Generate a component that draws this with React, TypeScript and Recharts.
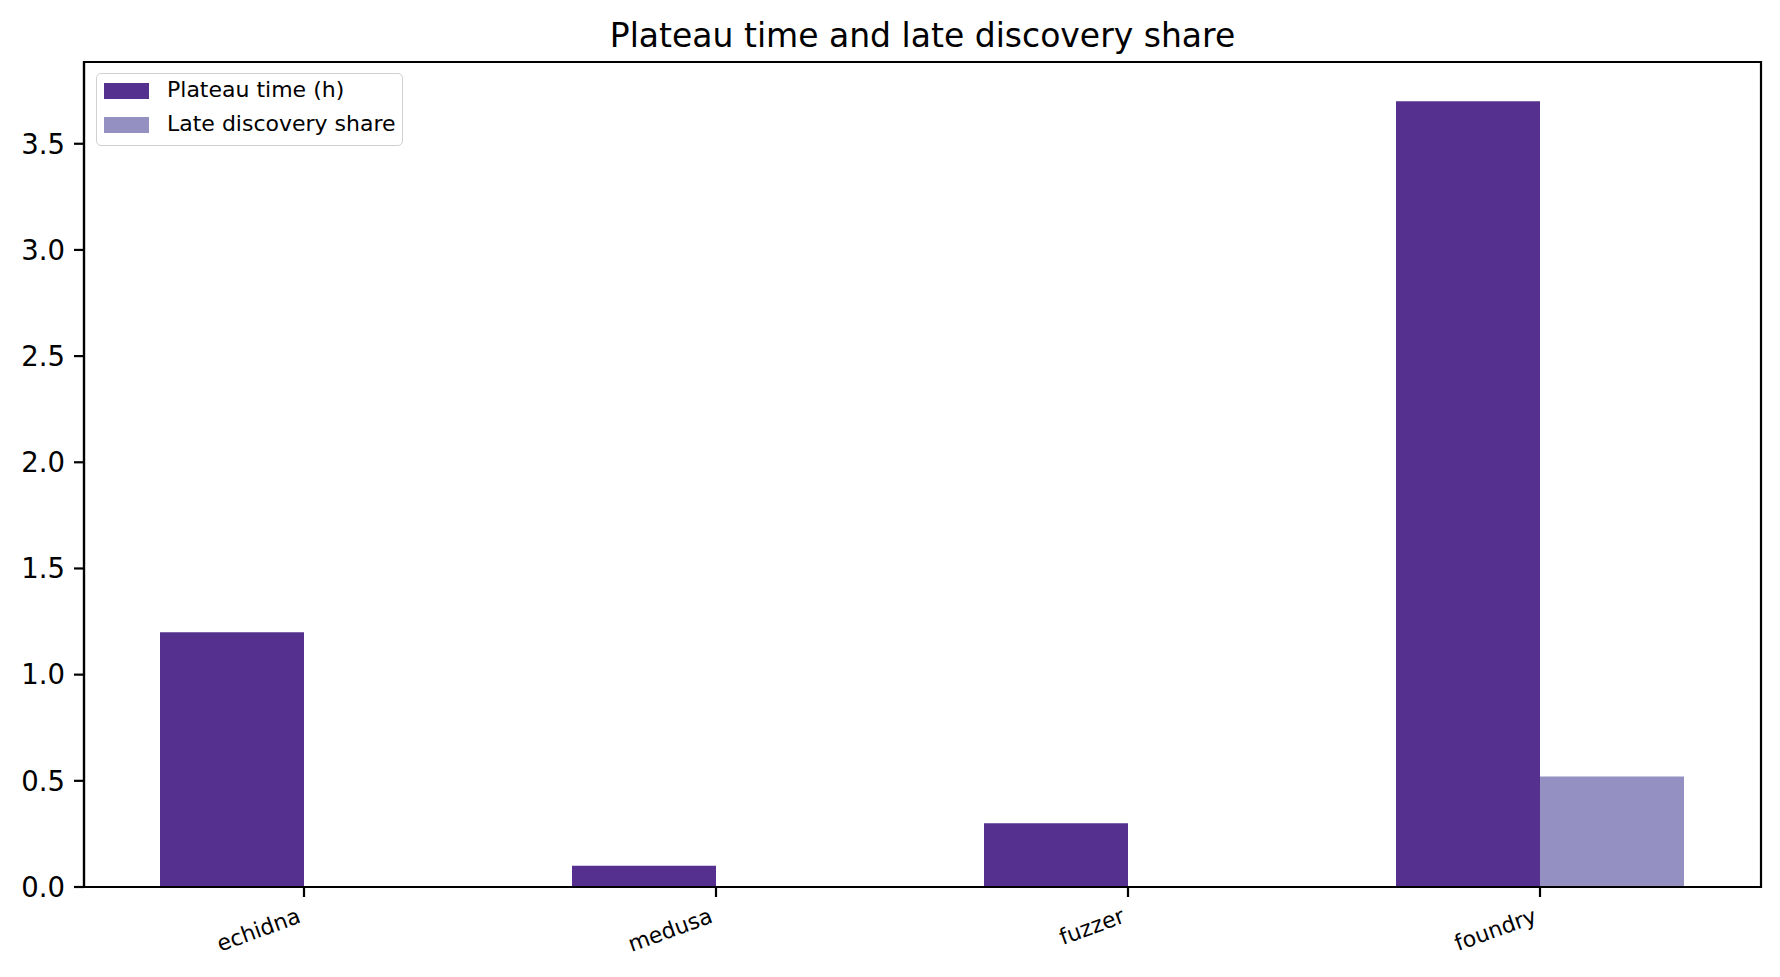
import * as React from "react";
import { BarChart, Bar, XAxis, YAxis, Legend, ReferenceArea } from "recharts";

const categories = ["echidna", "medusa", "fuzzer", "foundry"];
const plateauHours = [1.2, 0.1, 0.3, 3.7];
const lateShare = [0, 0, 0, 0.52];
const yTicks = [0, 0.5, 1, 1.5, 2, 2.5, 3, 3.5];
const Y_MAX = 3.885;

const PLATEAU_COLOR = "#56308f";
const LATE_COLOR = "#9491c2";
const FONT = "'DejaVu Sans', sans-serif";

const chartData = categories.map((name, i) => ({
  name,
  plateau: plateauHours[i],
  late: lateShare[i],
}));

const legendItems = [
  { label: "Plateau time (h)", color: PLATEAU_COLOR },
  { label: "Late discovery share", color: LATE_COLOR },
];

function LegendBox() {
  return (
    <div
      style={{
        position: "relative",
        width: 307,
        height: 73,
        boxSizing: "border-box",
        border: "1.5px solid #d0d0d0",
        borderRadius: 5,
        background: "rgba(255,255,255,0.8)",
        fontFamily: FONT,
        fontSize: 22,
      }}
    >
      {legendItems.map((item, i) => (
        <React.Fragment key={item.label}>
          <div
            style={{
              position: "absolute",
              left: 7,
              top: 8.5 + i * 34,
              width: 45,
              height: 16,
              background: item.color,
            }}
          />
          <div
            style={{
              position: "absolute",
              left: 70,
              top: 3 + i * 34,
              lineHeight: "26px",
              whiteSpace: "nowrap",
              color: "#000",
            }}
          >
            {item.label}
          </div>
        </React.Fragment>
      ))}
    </div>
  );
}

function XTick(props: any) {
  const { x, y, payload } = props;
  return (
    <text
      x={x - 2}
      y={y + 25}
      textAnchor="end"
      fontFamily={FONT}
      fontSize={22}
      fill="#000"
      transform={`rotate(-20, ${x - 2}, ${y + 25})`}
    >
      {payload.value}
    </text>
  );
}

export default function App() {
  return (
    <div style={{ position: "absolute", left: 0, top: 0, width: 1780, height: 977, background: "#fff" }}>
      <div
        style={{
          position: "absolute",
          left: 84,
          width: 1677,
          top: 17,
          textAlign: "center",
          fontFamily: FONT,
          fontSize: 33,
          lineHeight: "38px",
          color: "#000",
        }}
      >
        Plateau time and late discovery share
      </div>
      <BarChart
        width={1780}
        height={977}
        data={chartData}
        margin={{ top: 62, right: 19, bottom: 0, left: 0 }}
        barGap={0}
        barSize={144}
      >
        <XAxis
          dataKey="name"
          height={90}
          padding={{ left: 14, right: 15 }}
          axisLine={{ stroke: "#000", strokeWidth: 2.2 }}
          tickLine={{ stroke: "#000", strokeWidth: 2.2 }}
          tickSize={10}
          tickMargin={0}
          interval={0}
          tick={<XTick />}
        />
        {/* hidden full-width axis, only used to draw the frame around the plot */}
        <XAxis
          xAxisId="frame"
          type="number"
          dataKey={() => 0.5}
          domain={[0, 1]}
          allowDataOverflow
          hide
        />
        <YAxis
          width={84}
          domain={[0, Y_MAX]}
          ticks={yTicks}
          allowDataOverflow
          axisLine={{ stroke: "#000", strokeWidth: 2.2 }}
          tickLine={{ stroke: "#000", strokeWidth: 2.2 }}
          tickSize={10}
          tickMargin={9}
          tickFormatter={(v: number) => v.toFixed(1)}
          tick={{ fill: "#000", fontFamily: FONT, fontSize: 27.5 }}
        />
        <Legend
          layout="vertical"
          align="center"
          verticalAlign="middle"
          content={() => <LegendBox />}
          wrapperStyle={{ position: "absolute", left: 96, top: 73, width: 307, height: 73 }}
        />
        <Bar
          dataKey="plateau"
          name="Plateau time (h)"
          fill={PLATEAU_COLOR}
          isAnimationActive={false}
        />
        <Bar
          dataKey="late"
          name="Late discovery share"
          fill={LATE_COLOR}
          isAnimationActive={false}
        />
        <ReferenceArea
          xAxisId="frame"
          x1={0}
          x2={1}
          y1={0}
          y2={Y_MAX}
          fill="none"
          fillOpacity={0}
          stroke="#000"
          strokeWidth={2.2}
          ifOverflow="visible"
        />
      </BarChart>
    </div>
  );
}
